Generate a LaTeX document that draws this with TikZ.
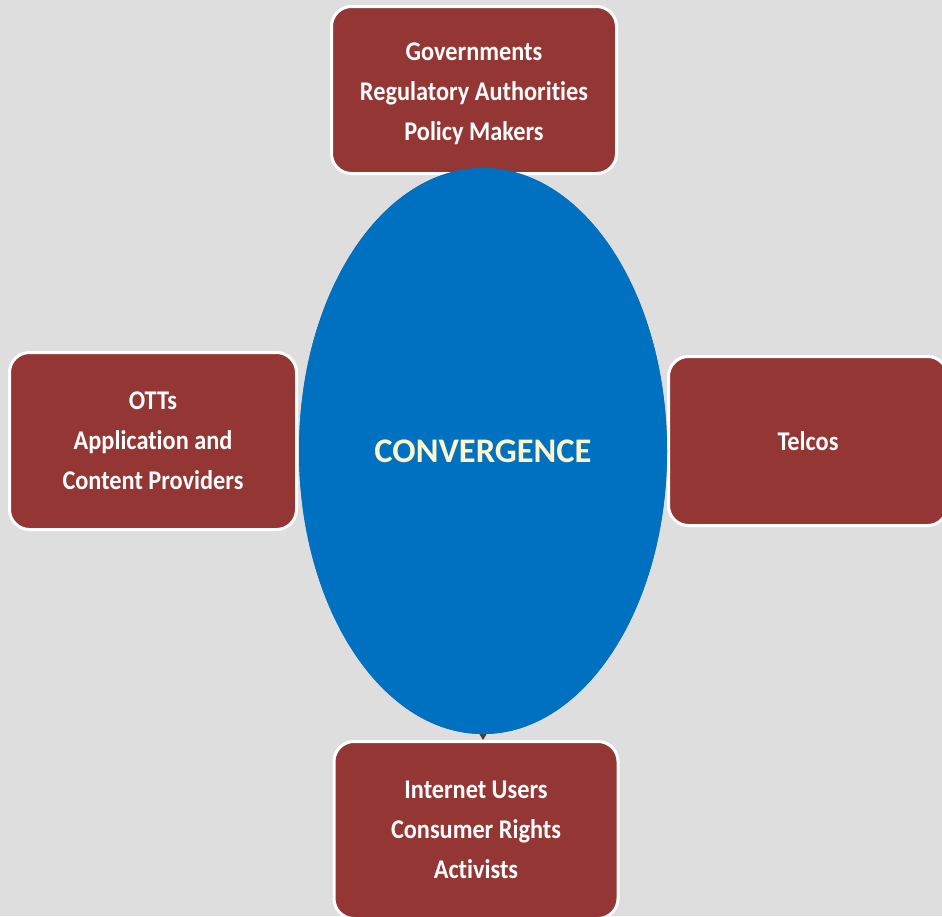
\documentclass[tikz,border=0pt]{standalone}
\usepackage{fontspec}
\setmainfont[Ligatures=NoCommon]{Carlito}
\newfontfamily\boxfont[Ligatures=NoCommon,FakeStretch=0.9]{Carlito}
\usetikzlibrary{shapes.geometric,arrows.meta}
\definecolor{bg}{HTML}{DEDEDE}
\definecolor{boxred}{HTML}{943634}
\definecolor{convblue}{HTML}{0070C0}
\definecolor{convtext}{HTML}{FFF5CC}
\definecolor{arrowgrey}{HTML}{404040}
\tikzset{
  actor/.style={draw=white, line width=3pt, fill=boxred, rounded corners=20pt,
    text=white, align=center, inner sep=0pt,
    font=\boxfont\fontsize{27}{40}\selectfont\bfseries},
  core/.style={ellipse, fill=convblue, inner sep=0pt, text=convtext,
    font=\fontsize{34.5}{40}\selectfont\bfseries},
  link/.style={draw=arrowgrey, line width=1pt, -{Triangle[length=6pt,width=7pt]}}
}
\begin{document}
\begin{tikzpicture}[x=1pt,y=-1pt]
\fill[bg] (0,0) rectangle (942,916);
\useasboundingbox (0,0) rectangle (942,916);
\node[actor, minimum width=285pt, minimum height=167pt] (gov) at (474,90)
  {\rule{0pt}{25pt}Governments\\Regulatory Authorities\\Policy Makers};
\node[actor, minimum width=287pt, minimum height=177pt] (ott) at (153,441)
  {OTTs\\Application and\\Content Providers};
\node[actor, minimum width=279pt, minimum height=169pt] (tel) at (808,441)
  {Telcos};
\node[actor, minimum width=284pt, minimum height=177pt] (usr) at (476,830)
  {Internet Users\\Consumer Rights\\Activists};
\node[core, minimum width=368pt, minimum height=566pt] (conv) at (483,451) {};
\draw[link] (conv.center) -- (conv.center |- usr.north);
\node[core, minimum width=368pt, minimum height=566pt] (conv2) at (483,451) {CONVERGENCE};
\end{tikzpicture}
\end{document}
